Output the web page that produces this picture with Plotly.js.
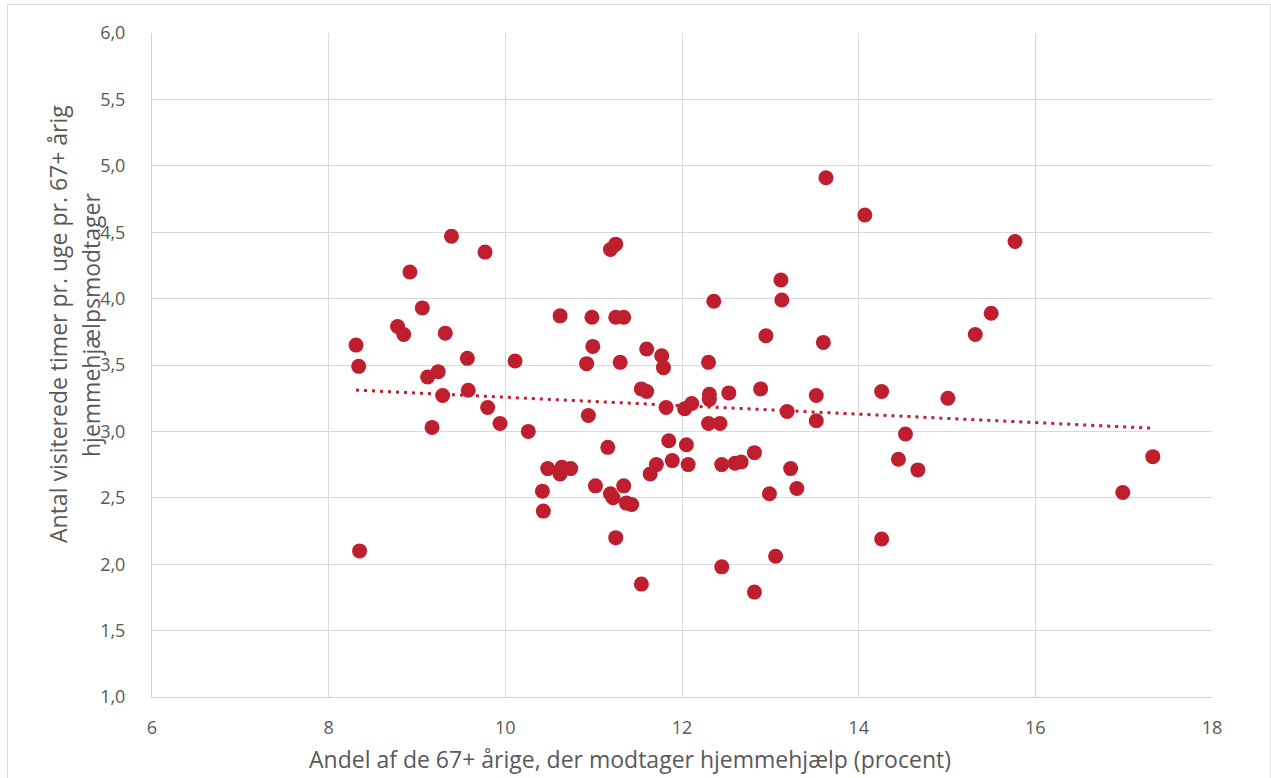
<!DOCTYPE html>
<html>
<head>
<meta charset="utf-8">
<script src="https://cdn.plot.ly/plotly-3.0.1.min.js"></script>
<style>
  html, body { margin: 0; padding: 0; background: #fff; }
  #wrap { position: relative; width: 1271px; height: 778px; overflow: hidden; }
  #chart { position: absolute; left: 0; top: 0; width: 1271px; height: 778px; }
  #frame { position: absolute; left: 7px; top: 4px; width: 1262px; height: 790px; border: 1px solid #d9d9d9; pointer-events: none; }
</style>
</head>
<body>
<div id="wrap">
  <div id="chart"></div>
  <div id="frame"></div>
</div>
<script>
// Andel af de 67+ årige, der modtager hjemmehjælp (procent)
const shareHelp = [
  8.31, 8.34, 8.35, 8.78, 8.85, 8.92, 9.06, 9.12, 9.24, 9.17,
  9.29, 9.32, 9.39, 9.57, 9.58, 9.77, 9.80, 9.94, 10.11, 10.26,
  10.42, 10.43, 10.48, 10.62, 10.62, 10.64, 10.74, 10.92, 10.94, 10.98,
  10.99, 11.02, 11.16, 11.19, 11.25, 11.19, 11.22, 11.25, 11.34, 11.25,
  11.30, 11.34, 11.37, 11.43, 11.54, 11.54, 11.60, 11.60, 11.64, 11.71,
  11.77, 11.79, 11.82, 11.85, 11.89, 12.03, 12.05, 12.07, 12.11, 12.30,
  12.31, 12.31, 12.30, 12.36, 12.43, 12.45, 12.45, 12.53, 12.60, 12.67,
  12.82, 12.82, 12.89, 12.95, 12.99, 13.06, 13.12, 13.13, 13.19, 13.23,
  13.30, 13.52, 13.52, 13.60, 13.63, 14.07, 14.26, 14.26, 14.45, 14.53,
  14.67, 15.01, 15.32, 15.50, 15.77, 16.99, 17.33
];
// Antal visiterede timer pr. uge pr. 67+ årig hjemmehjælpsmodtager
const hoursPerWeek = [
  3.65, 3.49, 2.10, 3.79, 3.73, 4.20, 3.93, 3.41, 3.45, 3.03,
  3.27, 3.74, 4.47, 3.55, 3.31, 4.35, 3.18, 3.06, 3.53, 3.00,
  2.55, 2.40, 2.72, 3.87, 2.68, 2.73, 2.72, 3.51, 3.12, 3.86,
  3.64, 2.59, 2.88, 4.37, 4.41, 2.53, 2.50, 3.86, 3.86, 2.20,
  3.52, 2.59, 2.46, 2.45, 1.85, 3.32, 3.30, 3.62, 2.68, 2.75,
  3.57, 3.48, 3.18, 2.93, 2.78, 3.17, 2.90, 2.75, 3.21, 3.52,
  3.28, 3.24, 3.06, 3.98, 3.06, 2.75, 1.98, 3.29, 2.76, 2.77,
  2.84, 1.79, 3.32, 3.72, 2.53, 2.06, 4.14, 3.99, 3.15, 2.72,
  2.57, 3.08, 3.27, 3.67, 4.91, 4.63, 3.30, 2.19, 2.79, 2.98,
  2.71, 3.25, 3.73, 3.89, 4.43, 2.54, 2.81
];
const xTickVals = [6, 8, 10, 12, 14, 16, 18];
const yTickVals = [1.0, 1.5, 2.0, 2.5, 3.0, 3.5, 4.0, 4.5, 5.0, 5.5, 6.0];
const xTitle = 'Andel af de 67+ årige, der modtager hjemmehjælp (procent)';
const yTitleLines = ['Antal visiterede timer pr. uge pr. 67+ årig', 'hjemmehjælpsmodtager'];

// Linear trendline (least squares) from the data
const n = shareHelp.length;
let sx = 0, sy = 0, sxx = 0, sxy = 0;
for (let i = 0; i < n; i++) {
  sx += shareHelp[i]; sy += hoursPerWeek[i];
  sxx += shareHelp[i] * shareHelp[i]; sxy += shareHelp[i] * hoursPerWeek[i];
}
const slope = (n * sxy - sx * sy) / (n * sxx - sx * sx);
const intercept = (sy - slope * sx) / n;
const xMin = Math.min(...shareHelp), xMax = Math.max(...shareHelp);
const trendX = [xMin, xMax];
const trendY = trendX.map(v => intercept + slope * v);

const red = '#BE1E2D';
const textColor = '#595959';
const font = 'Open Sans, Liberation Sans, Arial, sans-serif';

const traces = [
  {
    x: trendX, y: trendY, type: 'scatter', mode: 'lines',
    line: { color: red, width: 3, dash: '3px,5px' },
    hoverinfo: 'skip', showlegend: false
  },
  {
    x: shareHelp, y: hoursPerWeek, type: 'scatter', mode: 'markers',
    marker: { color: red, size: 15, line: { width: 0 } },
    showlegend: false
  }
];

const layout = {
  width: 1271, height: 778,
  paper_bgcolor: '#ffffff', plot_bgcolor: '#ffffff',
  margin: { l: 152, r: 59, t: 33, b: 81 },
  separators: ',.',
  font: { family: font, color: textColor, size: 18 },
  showlegend: false,
  xaxis: {
    range: [6, 18], tickvals: xTickVals, ticktext: xTickVals.map(String),
    showgrid: true, gridcolor: '#d9d9d9', gridwidth: 1,
    showline: true, linecolor: '#d0d0d0', linewidth: 1,
    zeroline: false, ticks: '', ticklabelstandoff: 14,
    tickfont: { family: font, size: 18, color: textColor },
    automargin: false
  },
  yaxis: {
    range: [1, 6], tickvals: yTickVals, tickformat: '.1f',
    showgrid: true, gridcolor: '#d9d9d9', gridwidth: 1,
    showline: true, linecolor: '#d0d0d0', linewidth: 1,
    zeroline: false, ticks: '', ticklabelstandoff: 22,
    tickfont: { family: font, size: 18, color: textColor },
    automargin: false
  },
  annotations: [
    {
      text: xTitle, xref: 'paper', yref: 'paper',
      x: (630 - 152) / 1060, y: (697 - 759) / 664,
      xanchor: 'center', yanchor: 'middle', showarrow: false,
      font: { family: font, size: 23, color: textColor }
    },
    {
      text: yTitleLines[0], xref: 'paper', yref: 'paper', textangle: -90,
      x: (58 - 152) / 1060, y: (697 - 324) / 664,
      xanchor: 'center', yanchor: 'middle', showarrow: false,
      font: { family: font, size: 23, color: textColor }
    },
    {
      text: yTitleLines[1], xref: 'paper', yref: 'paper', textangle: -90,
      x: (91 - 152) / 1060, y: (697 - 325) / 664,
      xanchor: 'center', yanchor: 'middle', showarrow: false,
      font: { family: font, size: 23, color: textColor }
    }
  ]
};

Plotly.newPlot('chart', traces, layout, { displayModeBar: false, staticPlot: true });
</script>
</body>
</html>
